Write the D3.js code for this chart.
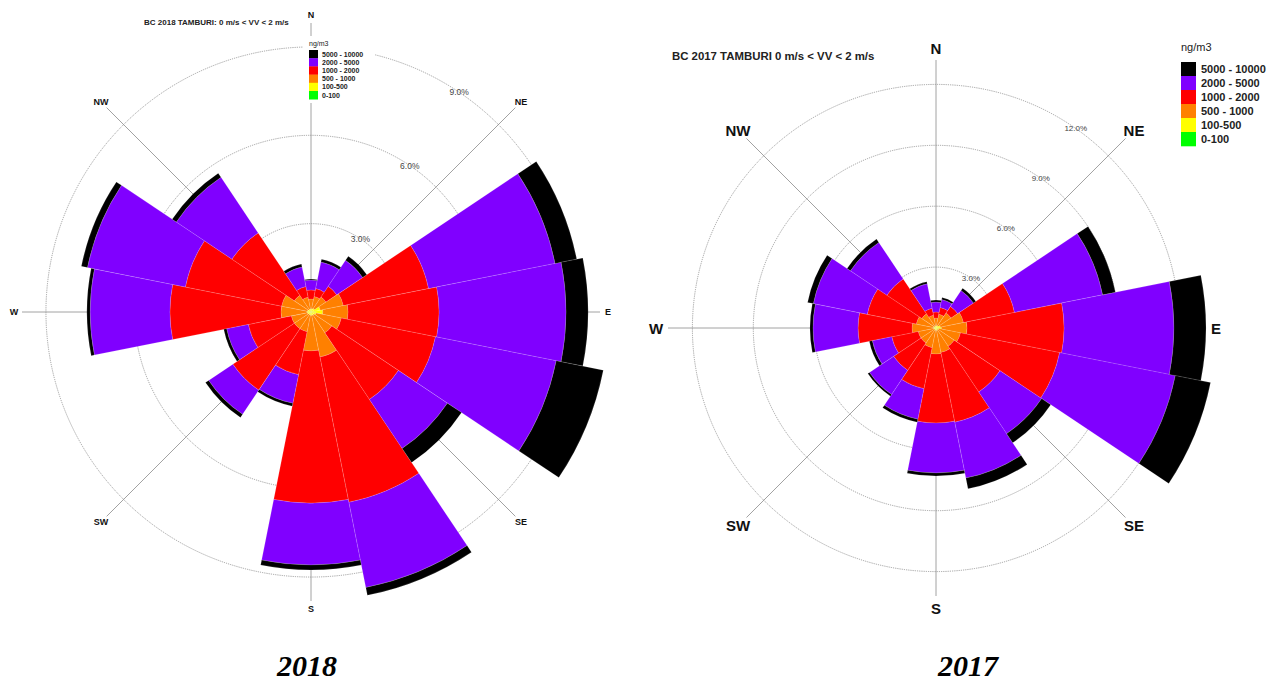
<!DOCTYPE html>
<html><head><meta charset="utf-8">
<script src="https://cdn.jsdelivr.net/npm/d3@7"></script>
<style>
body{margin:0;background:#fff}
svg{display:block}
text{font-family:"Liberation Sans",Arial,sans-serif}
</style>
</head><body>
<svg id="c" width="1268" height="683"></svg>
<script>
// ---------- data ----------
const directions = ["N","NNE","NE","ENE","E","ESE","SE","SSE","S","SSW","SW","WSW","W","WNW","NW","NNW"];
const bandLabels = ["0-100","100-500","500 - 1000","1000 - 2000","2000 - 5000","5000 - 10000"];
const bandColors = ["#00ff00","#ffff00","#ff8000","#ff0000","#8000ff","#000000"];
const compassLabels = ["N","NE","E","SE","S","SW","W","NW"];
const rings2018 = [3,6,9];
const rings2017 = [3,6,9,12];
const captions = ["2018","2017"];

// 2018: percentage of time in each concentration band per direction
const green2018  = [0.02,0.02,0.02,0.02,0.02,0.02,0.02,0.02,0.02,0.02,0.02,0.02,0.02,0.02,0.02,0.02];
const yellow2018 = [0.08,0.10,0.12,0.30,0.38,0.15,0.10,0.10,0.10,0.08,0.08,0.10,0.12,0.10,0.08,0.08];
const orange2018 = [0.34,0.42,0.47,0.80,0.86,0.88,0.73,1.44,1.20,0.58,0.58,0.56,0.88,0.90,0.58,0.41];
const red2018    = [0.31,0.27,0.44,2.95,3.09,3.26,2.72,5.03,5.17,1.49,2.51,1.49,3.77,3.33,2.55,0.37];
const purple2018 = [0.34,0.92,1.06,4.38,4.31,4.18,2.00,2.95,2.10,0.99,0.99,0.75,2.71,3.39,2.27,0.68];
const black2018  = [0.03,0.10,0.17,0.75,0.75,1.63,0.58,0.27,0.17,0.10,0.13,0.10,0.11,0.21,0.17,0.10];

// 2017
const green2017  = [0.02,0.02,0.02,0.02,0.02,0.02,0.02,0.02,0.02,0.02,0.02,0.02,0.02,0.02,0.02,0.02];
const yellow2017 = [0.08,0.10,0.12,0.20,0.25,0.12,0.10,0.10,0.10,0.08,0.08,0.08,0.12,0.10,0.08,0.08];
const orange2017 = [0.39,0.57,0.75,1.16,1.26,1.09,0.96,1.11,1.16,0.89,0.79,0.79,1.04,0.87,0.74,0.54];
const red2017    = [0.30,0.34,0.39,2.56,4.78,4.98,2.71,3.50,3.40,2.06,1.62,1.33,2.66,2.46,2.07,0.35];
const purple2017 = [0.49,0.40,0.94,4.43,5.41,5.81,2.47,2.81,2.46,1.53,1.43,0.98,2.22,2.71,2.16,1.23];
const black2017  = [0.10,0.10,0.14,0.64,1.58,1.77,0.54,0.54,0.15,0.15,0.10,0.15,0.15,0.29,0.20,0.10];

// ---------- drawing ----------
const svg = d3.select("#c");

function buildRows(series){
  return directions.map((d,i)=>{
    const row = {dir:d};
    bandLabels.forEach((b,j)=>{ row[b] = series[j][i]; });
    return row;
  });
}

function drawRose(cfg){
  const g = svg.append("g").attr("transform",`translate(${cfg.cx},${cfg.cy})`);
  const r = d3.scaleLinear().domain([0,cfg.maxPct]).range([0,cfg.maxPx]);
  const step = 2*Math.PI/directions.length;
  const a = d3.scaleBand().domain(directions).range([-step/2, 2*Math.PI-step/2]).padding(0);
  const ca = d3.scalePoint().domain(compassLabels).range([0, 2*Math.PI*7/8]);

  // rings
  g.selectAll("circle.ring").data(cfg.rings).join("circle")
    .attr("r",d=>r(d)).attr("fill","none")
    .attr("stroke","#8a8a8a").attr("stroke-width",0.8).attr("stroke-dasharray","1.2,1");
  // spokes
  g.selectAll("line.spoke").data(compassLabels).join("line")
    .attr("x1",0).attr("y1",0)
    .attr("x2",d=>cfg.spokeR*Math.sin(ca(d)))
    .attr("y2",d=>-cfg.spokeR*Math.cos(ca(d)))
    .attr("stroke","#8a8a8a").attr("stroke-width",0.8);

  // stacked wedges
  const stacked = d3.stack().keys(bandLabels)(buildRows(cfg.series));
  const arc = d3.arc()
    .innerRadius(d=>r(d[0])).outerRadius(d=>r(d[1]))
    .startAngle(d=>a(d.data.dir)).endAngle(d=>a(d.data.dir)+a.bandwidth());
  stacked.forEach((layer,j)=>{
    g.append("g").selectAll("path").data(layer).join("path")
      .attr("d",arc).attr("fill",bandColors[j])
      .attr("stroke","#ffffff").attr("stroke-opacity",0.35).attr("stroke-width",0.4);
  });

  // ring labels
  g.selectAll("text.rl").data(cfg.rings).join("text")
    .attr("x",d=>r(d)*Math.sin(cfg.ringLabelAngle))
    .attr("y",d=>-r(d)*Math.cos(cfg.ringLabelAngle))
    .attr("text-anchor","middle").attr("dominant-baseline","central")
    .attr("font-size",cfg.ringLabelFont).attr("fill","#444")
    .text(d=>d.toFixed(1)+"%");

  // compass labels
  g.selectAll("text.cl").data(compassLabels).join("text")
    .attr("x",d=>cfg.labelR*Math.sin(ca(d)))
    .attr("y",d=>-cfg.labelR*Math.cos(ca(d)))
    .attr("text-anchor","middle").attr("dominant-baseline","central")
    .attr("font-size",cfg.labelFont).attr("font-weight","bold").attr("fill","#111")
    .text(d=>d);

  // title
  svg.append("text").attr("x",cfg.title.x).attr("y",cfg.title.y)
    .attr("font-size",cfg.title.size).attr("font-weight","bold").attr("fill","#222")
    .text(cfg.title.text);

  // legend
  const L = cfg.legend;
  const lg = svg.append("g");
  if (L.bg) lg.append("rect").attr("x",L.bg[0]).attr("y",L.bg[1]).attr("width",L.bg[2]).attr("height",L.bg[3]).attr("fill","#fff");
  lg.append("text").attr("x",L.x).attr("y",L.titleY).attr("font-size",L.titleSize).attr("fill","#222").text("ng/m3");
  const order = bandLabels.slice().reverse();
  const colorOf = d3.scaleOrdinal().domain(bandLabels).range(bandColors);
  const ly = d3.scaleBand().domain(order).range([L.y0, L.y0+L.h*order.length]);
  lg.selectAll("rect.k").data(order).join("rect")
    .attr("x",L.x).attr("y",d=>ly(d)).attr("width",L.w).attr("height",ly.bandwidth()+0.3)
    .attr("fill",d=>colorOf(d));
  lg.selectAll("text.k").data(order).join("text")
    .attr("x",L.x+L.w+L.gap).attr("y",d=>ly(d)+ly.bandwidth()/2)
    .attr("dominant-baseline","central").attr("font-size",L.size).attr("font-weight","bold").attr("fill","#222")
    .text(d=>d);
}

drawRose({
  cx:311, cy:312, maxPct:10, maxPx:294.5, rings:rings2018,
  spokeR:289, labelR:297, labelFont:9, ringLabelFont:8.5, ringLabelAngle:34*Math.PI/180,
  series:[green2018,yellow2018,orange2018,red2018,purple2018,black2018],
  title:{x:144,y:25,size:8,text:"BC 2018 TAMBURI: 0 m/s < VV < 2 m/s"},
  legend:{bg:[303,36,72,67], x:309, titleY:46, titleSize:7, y0:50, h:8.2, w:9, gap:4, size:7}
});

drawRose({
  cx:936, cy:328, maxPct:14, maxPx:284.2, rings:rings2017,
  spokeR:268, labelR:280, labelFont:15, ringLabelFont:8, ringLabelAngle:35*Math.PI/180,
  series:[green2017,yellow2017,orange2017,red2017,purple2017,black2017],
  title:{x:672,y:60,size:11.4,text:"BC 2017 TAMBURI 0 m/s < VV < 2 m/s"},
  legend:{bg:null, x:1181, titleY:51, titleSize:11, y0:62, h:14, w:15, gap:5, size:11}
});

svg.selectAll("text.cap").data(captions).join("text")
  .attr("x",(d,i)=>[307,968][i]).attr("y",676)
  .attr("text-anchor","middle")
  .style("font-family","'Liberation Serif','Times New Roman',serif")
  .attr("font-size",30).attr("font-weight","bold").attr("font-style","italic").attr("fill","#000")
  .text(d=>d);
</script>
</body></html>
